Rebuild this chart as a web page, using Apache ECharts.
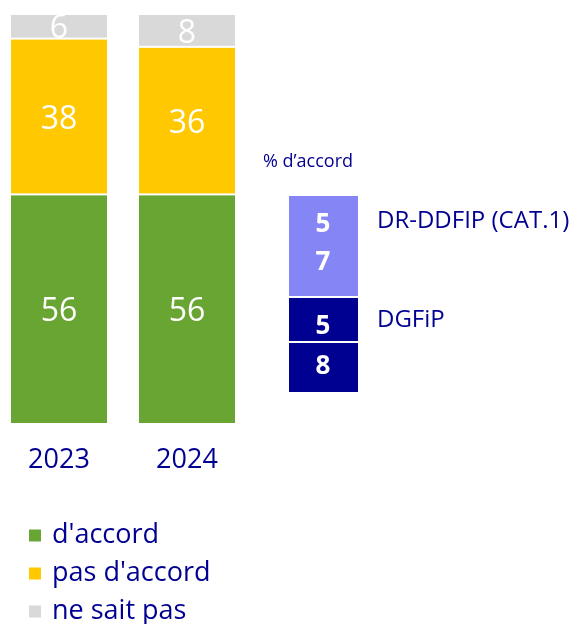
<!DOCTYPE html>
<html>
<head>
<meta charset="utf-8">
<script src="https://cdn.jsdelivr.net/npm/echarts@6/dist/echarts.min.js"></script>
<style>
  html, body { margin: 0; padding: 0; background: #fff; }
  #chart { width: 576px; height: 624px; }
</style>
</head>
<body>
<div id="chart"></div>
<script>
// années et réponses (%)
var years = ['2023', '2024'];
var accord = [56, 56];
var pasAccord = [38, 36];
var neSaitPas = [6, 8];

// encadré "% d'accord"
var groupes = ['DR-DDFIP (CAT.1)', 'DGFiP'];
var pctAccord = [57, 58];

var navy = '#000091';
var font = 'Open Sans';

var chartDom = document.getElementById('chart');
var myChart = echarts.init(chartDom);

function barSeries(name, color, data) {
  return {
    name: name,
    type: 'bar',
    stack: 'total',
    barWidth: 98,
    itemStyle: { color: color, borderColor: '#fff', borderWidth: 1 },
    label: {
      show: true,
      position: 'inside',
      offset: [0, 3],
      color: '#fff',
      fontSize: 32,
      fontFamily: font
    },
    data: data
  };
}

// digits of each percentage, one per line as in the source
function digits(v) { return String(v).split(''); }
var d1 = digits(pctAccord[0]);
var d2 = digits(pctAccord[1]);

var digitStyle = { fill: '#fff', fontSize: 26, fontWeight: 'bold', fontFamily: font, align: 'center', verticalAlign: 'middle' };

var option = {
  animation: false,
  legend: {
    data: ["d'accord", "pas d'accord", 'ne sait pas'],
    orient: 'vertical',
    left: 22,
    top: 517,
    padding: 5,
    height: 110,
    itemWidth: 14,
    itemHeight: 14,
    itemGap: 11,
    icon: 'rect',
    textStyle: { color: navy, fontSize: 27, fontFamily: font, padding: [0, 0, 0, 5] }
  },
  grid: { left: -5, width: 256, top: 14, bottom: 200, outerBoundsMode: 'none', containLabel: false },
  xAxis: {
    type: 'category',
    data: years,
    axisLine: { show: false },
    axisTick: { show: false },
    axisLabel: { color: navy, fontSize: 27, fontFamily: font, margin: 23 }
  },
  yAxis: { type: 'value', min: 0, max: 100, show: false },
  series: [
    barSeries("d'accord", '#68A532', accord),
    barSeries("pas d'accord", '#FFC800', pasAccord),
    barSeries('ne sait pas', '#D9D9D9', neSaitPas)
  ],
  graphic: [
    { type: 'text', left: 263, top: 153, style: { text: "% d\u2019accord", fill: navy, fontSize: 18, fontFamily: font } },
    { type: 'rect', shape: { x: 289, y: 196, width: 69, height: 100 }, style: { fill: '#8585F6' } },
    { type: 'rect', shape: { x: 289, y: 298, width: 69, height: 43 }, style: { fill: navy } },
    { type: 'rect', shape: { x: 289, y: 343, width: 69, height: 49 }, style: { fill: navy } },
    { type: 'text', x: 323, y: 225, style: Object.assign({ text: d1[0] }, digitStyle) },
    { type: 'text', x: 323, y: 263, style: Object.assign({ text: d1[1] }, digitStyle) },
    { type: 'text', x: 323, y: 327, style: Object.assign({ text: d2[0] }, digitStyle) },
    { type: 'text', x: 323, y: 367, style: Object.assign({ text: d2[1] }, digitStyle) },
    { type: 'text', x: 377, y: 221, style: { text: groupes[0], fill: navy, fontSize: 24, fontFamily: font, verticalAlign: 'middle' } },
    { type: 'text', x: 377, y: 320, style: { text: groupes[1], fill: navy, fontSize: 24, fontFamily: font, verticalAlign: 'middle' } }
  ]
};

option && myChart.setOption(option);
</script>
</body>
</html>
